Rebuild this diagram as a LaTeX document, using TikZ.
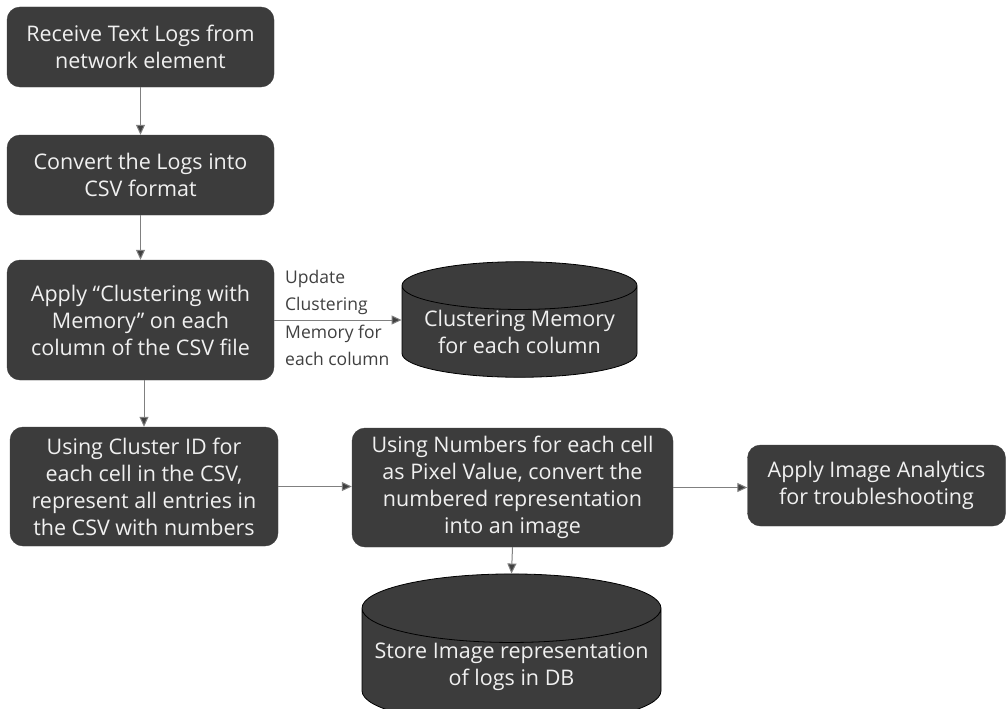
\documentclass[tikz,border=0pt]{standalone}
\usepackage{fontspec}
\setmainfont{Open Sans}
\usepackage{tikz}
\usetikzlibrary{shapes.geometric, arrows.meta, positioning}

\definecolor{boxgray}{HTML}{3C3C3C}
\definecolor{linegray}{HTML}{808080}
\definecolor{tipgray}{HTML}{404040}

\begin{document}
\begin{tikzpicture}[x=1pt, y=-1pt,
  stepbox/.style={fill=boxgray, draw=boxgray, rounded corners=13pt, text=white!94!black, align=center, inner sep=0pt, font=\fontsize{21.5}{27}\selectfont},
  store/.style={cylinder, shape border rotate=90, aspect=0.25, anchor=shape center, fill=boxgray, draw=black, line width=0.8pt, text=white!94!black, align=center, inner sep=0pt, font=\fontsize{21.5}{27}\selectfont},
  note/.style={align=left, text=black!75, font=\fontsize{17.5}{27.5}\selectfont, inner sep=0pt},
  arrow/.style={-{Triangle[length=10pt, width=9pt, fill=tipgray]}, draw=linegray, line width=1pt}
]

\useasboundingbox (0,0) rectangle (1006,709);

% process steps
\node[stepbox, minimum width=267pt, minimum height=80pt]  (receive) at (140.5,47)  {Receive Text Logs from\\network element};
\node[stepbox, minimum width=267pt, minimum height=80pt]  (convert) at (140.5,175) {Convert the Logs into\\CSV format};
\node[stepbox, minimum width=267pt, minimum height=120pt] (cluster) at (140.5,320) {Apply ``Clustering with\\Memory'' on each\\column of the CSV file};
\node[stepbox, minimum width=268pt, minimum height=119pt] (ids)     at (144,486.5) {Using Cluster ID for\\each cell in the CSV,\\represent all entries in\\the CSV with numbers};
\node[stepbox, minimum width=321pt, minimum height=119pt] (pixels)  at (512.5,487.5) {Using Numbers for each cell\\as Pixel Value, convert the\\numbered representation\\into an image};
\node[stepbox, minimum width=258pt, minimum height=81pt]  (analyse) at (876.5,485.5) {Apply Image Analytics\\for troubleshooting};

% stores
\node[store, minimum width=235pt, minimum height=115pt] (memory) at (519.5,319.5) {Clustering Memory\\for each column};
\node[store, minimum width=299pt, minimum height=113pt] (db)     at (511.5,649.5) {Store Image representation\\of logs in DB};

\node[note, anchor=west] (update) at (285,318) {Update\\Clustering\\Memory for\\each column};

\draw[arrow] (receive) -- (convert);
\draw[arrow] (convert) -- (cluster);
\draw[arrow] (cluster.south -| ids.north) -- (ids.north);
\draw[arrow] (cluster.east) -- (memory.west |- cluster.east);
\draw[arrow] (ids) -- (pixels.west |- ids.east);
\draw[arrow] (pixels) -- (analyse.west |- pixels.east);
\draw[arrow] (pixels.south) -- (db.north);

\end{tikzpicture}
\end{document}
